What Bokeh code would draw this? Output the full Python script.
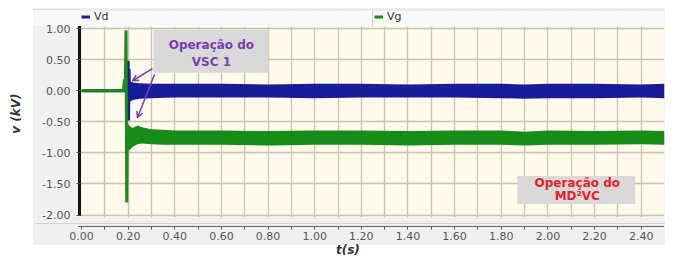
from bokeh.plotting import figure
from bokeh.models import (Range1d, FixedTicker, Label, BoxAnnotation, Arrow, OpenHead,
                          Legend, LegendItem, PrintfTickFormatter)
from bokeh.embed import file_html
from bokeh.resources import INLINE

# ---------------- data ----------------
# Vd: start-up transient then noisy band around 0 kV
vd_line_t = [0.000, 0.198, 0.200, 0.202, 0.204, 0.206]
vd_line_v = [0.00, 0.00, 0.48, -0.48, 0.35, -0.15]
vd_env_t = [0.204, 0.21, 0.22, 0.25, 0.30, 0.40, 0.60, 0.80, 1.00, 1.20, 1.40,
            1.60, 1.80, 1.90, 2.00, 2.20, 2.40, 2.50]
vd_upper = [0.18, 0.15, 0.13, 0.12, 0.11, 0.11, 0.11, 0.10, 0.11, 0.11, 0.10,
            0.11, 0.11, 0.10, 0.11, 0.11, 0.10, 0.11]
vd_lower = [-0.22, -0.17, -0.15, -0.13, -0.12, -0.11, -0.11, -0.11, -0.12, -0.11, -0.11,
            -0.11, -0.12, -0.13, -0.12, -0.12, -0.11, -0.12]

# Vg: start-up transient then noisy band around -0.75 kV
vg_line_t = [0.000, 0.180, 0.184, 0.188, 0.191, 0.194, 0.197, 0.200]
vg_line_v = [0.00, 0.00, 0.18, 0.10, 0.97, -1.80, -0.55, -0.62]
vg_env_t = [0.200, 0.21, 0.22, 0.24, 0.26, 0.30, 0.35, 0.40, 0.60, 0.80, 1.00,
            1.20, 1.40, 1.60, 1.80, 1.90, 2.00, 2.20, 2.40, 2.50]
vg_upper = [-0.54, -0.58, -0.60, -0.56, -0.59, -0.62, -0.63, -0.64, -0.64, -0.65, -0.64,
            -0.64, -0.65, -0.64, -0.64, -0.66, -0.64, -0.65, -0.64, -0.65]
vg_lower = [-0.98, -0.94, -0.90, -0.86, -0.85, -0.86, -0.87, -0.87, -0.87, -0.88, -0.87,
            -0.87, -0.88, -0.87, -0.87, -0.88, -0.87, -0.87, -0.86, -0.87]

x_ticks = [0.0, 0.2, 0.4, 0.6, 0.8, 1.0, 1.2, 1.4, 1.6, 1.8, 2.0, 2.2, 2.4]
x_minor = [0.1, 0.3, 0.5, 0.7, 0.9, 1.1, 1.3, 1.5, 1.7, 1.9, 2.1, 2.3]
x_grid = [0.1, 0.2, 0.3, 0.4, 0.5, 0.6, 0.7, 0.8, 0.9, 1.0, 1.1, 1.2, 1.3, 1.4,
          1.5, 1.6, 1.7, 1.8, 1.9, 2.0, 2.1, 2.2, 2.3, 2.4]
y_ticks = [-2.0, -1.5, -1.0, -0.5, 0.0, 0.5, 1.0]

series_names = ["Vd", "Vg"]
note1_lines = ["Operação do", "VSC 1"]
note2_lines = ["Operação do", "MD²VC"]

# ---------------- styling ----------------
BLUE = "#171d98"
GREEN = "#188c18"
PURPLE = "#7a3cb0"
RED = "#e8202a"
FONT = "DejaVu Sans"
Y_TOP = 1.306      # frame extends up over the legend strip
STRIP_BOTTOM = 1.03

p = figure(width=667, height=259, x_range=Range1d(0, 2.5), y_range=Range1d(-2.04, Y_TOP),
           output_backend="svg", toolbar_location=None,
           min_border_left=81, min_border_right=3, min_border_top=9, min_border_bottom=42)

p.border_fill_alpha = 0
p.background_fill_color = "#fffaeb"
p.outline_line_color = None

layers = [
    ("#111111", "78px 26px", "3px 190px"),     # black y axis line
    ("#666666", "78px 226px", "586px 1px"),    # x axis line
    ("#d3d3d3", "35px 223px", "630px 1px"),    # light rule above axis band
    ("#dddddd", "33px 9px", "630px 1px"),      # legend strip top border
    ("#f8f8f8", "33px 9px", "630px 17px"),     # legend strip
    ("#f0f0f0", "33px 8px", "632px 237px"),    # panel background
]
p.styles = {
    "background-image": ", ".join(f"linear-gradient({c}, {c})" for c, _, _ in layers),
    "background-position": ", ".join(pos for _, pos, _ in layers),
    "background-size": ", ".join(s for _, _, s in layers),
    "background-repeat": "no-repeat",
}

# grids
p.xgrid.ticker = FixedTicker(ticks=x_grid)
p.ygrid.ticker = FixedTicker(ticks=y_ticks)
for g in (p.xgrid, p.ygrid):
    g.grid_line_color = "#cac3b3"
    g.grid_line_width = 1.3

# x axis
xa = p.xaxis[0]
xa.ticker = FixedTicker(ticks=x_ticks, minor_ticks=x_minor)
xa.formatter = PrintfTickFormatter(format="%.2f")
xa.axis_line_color = None
xa.major_tick_in = -9
xa.major_tick_out = 12
xa.minor_tick_in = -9
xa.minor_tick_out = 12
xa.major_tick_line_color = "#555555"
xa.minor_tick_line_color = "#555555"
xa.major_label_standoff = 2
xa.major_label_text_font = FONT
xa.major_label_text_font_size = "11px"
xa.major_label_text_color = "#555555"
xa.axis_label = "t(s)" + "\u00a0" * 12
xa.axis_label_standoff = 0
xa.axis_label_text_font = FONT
xa.axis_label_text_font_style = "bold italic"
xa.axis_label_text_font_size = "12px"
xa.axis_label_text_color = "#333333"

# y axis
ya = p.yaxis[0]
ya.ticker = FixedTicker(ticks=y_ticks)
ya.formatter = PrintfTickFormatter(format="%.2f")
ya.axis_line_color = None
ya.major_tick_in = 0
ya.major_tick_out = 5
ya.minor_tick_line_color = None
ya.major_tick_line_color = "#444444"
ya.major_label_standoff = 6
ya.major_label_text_font = FONT
ya.major_label_text_font_size = "11px"
ya.major_label_text_color = "#555555"
ya.axis_label = "v (kV)"
ya.axis_label_standoff = 16
ya.axis_label_text_font = FONT
ya.axis_label_text_font_style = "bold italic"
ya.axis_label_text_font_size = "12px"
ya.axis_label_text_color = "#333333"

# data
p.varea(x=vd_env_t, y1=vd_lower, y2=vd_upper, fill_color=BLUE)
r_vd = p.line(vd_line_t, vd_line_v, line_color=BLUE, line_width=3)
p.varea(x=vg_env_t, y1=vg_lower, y2=vg_upper, fill_color=GREEN)
r_vg = p.line(vg_line_t, vg_line_v, line_color=GREEN, line_width=3)

# legend strip (inside the frame, above the 1.00 level)
p.add_layout(BoxAnnotation(bottom=STRIP_BOTTOM, top=Y_TOP, fill_color="#f8f8f8",
                           fill_alpha=1, line_color=None))
p.add_layout(BoxAnnotation(bottom=STRIP_BOTTOM, top=Y_TOP - 0.004, left=1.246, right=1.250,
                           fill_color="#cfcfcf", fill_alpha=1, line_color=None))
p.add_layout(BoxAnnotation(bottom=Y_TOP - 0.016, top=Y_TOP, fill_color="#dddddd",
                           fill_alpha=1, line_color=None))

legend = Legend(items=[LegendItem(label=series_names[0], renderers=[r_vd]),
                       LegendItem(label=series_names[1], renderers=[r_vg])],
                orientation="horizontal", location="top_left",
                glyph_width=9, glyph_height=15, label_height=15, label_width=265,
                label_standoff=4, spacing=15, padding=2, margin=0,
                label_text_font=FONT, label_text_font_size="11px",
                label_text_color="#333333",
                background_fill_alpha=0, border_line_color=None)
p.add_layout(legend)

# annotation 1 (purple)
p.add_layout(BoxAnnotation(left=0.309, right=0.802, bottom=0.29, top=0.984,
                           fill_color="#d9d9d9", fill_alpha=1, line_color=None))
for txt, yy in zip(note1_lines, [0.734, 0.456]):
    p.add_layout(Label(x=0.557, y=yy, text=txt, text_align="center", text_baseline="middle",
                       text_font=FONT, text_font_style="bold", text_font_size="12px",
                       text_color=PURPLE))
p.add_layout(Arrow(x_start=0.304, y_start=0.355, x_end=0.219, y_end=0.16,
                   line_color=PURPLE, line_width=1.5,
                   end=OpenHead(size=6, line_color=PURPLE, line_width=1.5)))
p.add_layout(Arrow(x_start=0.313, y_start=0.26, x_end=0.24, y_end=-0.435,
                   line_color=PURPLE, line_width=1.5,
                   end=OpenHead(size=6, line_color=PURPLE, line_width=1.5)))

# annotation 2 (red)
p.add_layout(BoxAnnotation(left=1.869, right=2.375, bottom=-1.823, top=-1.371,
                           fill_color="#d9d9d9", fill_alpha=1, line_color=None))
for txt, yy in zip(note2_lines, [-1.49, -1.70]):
    p.add_layout(Label(x=2.126, y=yy, text=txt, text_align="center", text_baseline="middle",
                       text_font=FONT, text_font_style="bold", text_font_size="12px",
                       text_color=RED))

open("out.html", "w").write(file_html(p, INLINE))
